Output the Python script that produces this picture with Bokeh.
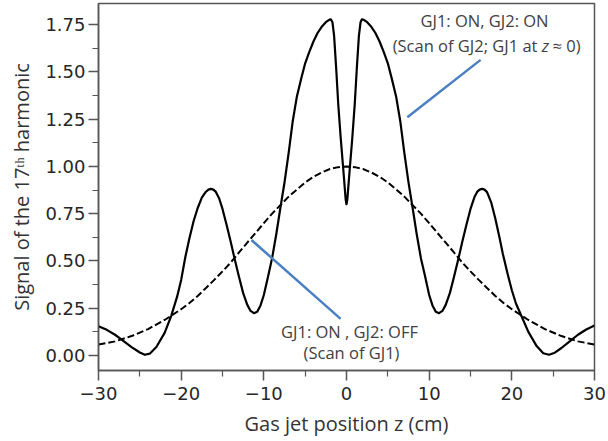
from bokeh.plotting import figure
from bokeh.models import Range1d, FixedTicker, CustomJSTickFormatter, Label, ColumnDataSource
from bokeh.embed import file_html
from bokeh.resources import INLINE

# ---- data ----
# GJ1: ON, GJ2: ON (scan of GJ2) -- solid
z_on = [-30.0, -29.0, -28.0, -27.0, -26.0, -25.0, -24.4, -23.8, -23.0, -22.0,
        -21.2, -20.5, -20.0, -19.5, -19.0, -18.5, -18.0, -17.5, -17.0, -16.7, -16.4,
        -16.1, -15.8, -15.4, -15.0, -14.5, -14.0, -13.5, -13.0, -12.5, -12.0, -11.6,
        -11.2, -10.8, -10.4, -10.0, -9.5, -9.0, -8.5, -8.0, -7.5, -7.0,
        -6.5, -6.0, -5.5, -5.0, -4.5, -4.0, -3.5, -3.0, -2.5, -2.1,
        -1.9, -1.7, -1.5, -1.25, -1.0, -0.7, -0.4, -0.2, -0.1, 0.0,
        0.1, 0.2, 0.4, 0.7, 1.0, 1.25, 1.5, 1.7, 1.85, 2.1,
        2.5, 3.0, 3.5, 4.0, 4.5, 5.0, 5.5, 6.0, 6.5, 7.0,
        7.5, 8.0, 8.5, 9.0, 9.5, 10.0, 10.4, 10.8, 11.2, 11.6,
        12.0, 12.5, 13.0, 13.5, 14.0, 14.5, 15.0, 15.5, 15.8, 16.1, 16.4,
        16.7, 17.0, 17.5, 18.0, 18.5, 18.9, 19.5, 20.0, 20.5, 21.2, 22.0,
        23.0, 23.8, 24.5, 25.2, 26.0, 27.0, 28.0, 29.0, 30.0]
signal_on = [0.155, 0.136, 0.110, 0.078, 0.045, 0.016, 0.004, 0.010, 0.045, 0.120,
             0.210, 0.310, 0.400, 0.520, 0.620, 0.710, 0.780, 0.835, 0.866, 0.877, 0.881,
             0.877, 0.865, 0.830, 0.775, 0.690, 0.600, 0.505, 0.415, 0.330, 0.268, 0.236,
             0.224, 0.232, 0.265, 0.320, 0.415, 0.515, 0.640, 0.780, 0.915, 1.070,
             1.240, 1.370, 1.460, 1.545, 1.605, 1.660, 1.705, 1.738, 1.762, 1.775,
             1.777, 1.762, 1.690, 1.520, 1.330, 1.150, 0.990, 0.880, 0.825, 0.800,
             0.825, 0.880, 0.990, 1.150, 1.330, 1.520, 1.690, 1.762, 1.777, 1.775,
             1.762, 1.738, 1.705, 1.660, 1.605, 1.545, 1.460, 1.370, 1.240, 1.070,
             0.915, 0.780, 0.640, 0.515, 0.420, 0.320, 0.265, 0.232, 0.224, 0.236,
             0.268, 0.330, 0.415, 0.505, 0.600, 0.690, 0.775, 0.840, 0.865, 0.877, 0.881,
             0.877, 0.864, 0.810, 0.725, 0.625, 0.540, 0.430, 0.345, 0.275, 0.205, 0.125,
             0.050, 0.012, 0.004, 0.015, 0.040, 0.075, 0.110, 0.138, 0.159]

# GJ1: ON, GJ2: OFF (scan of GJ1) -- dashed
z_off = [-30, -28, -26, -24, -22, -20, -19, -18, -17, -16, -15, -14, -13, -12, -11,
         -10, -9, -8, -7, -6, -5, -4, -3, -2, -1, 0, 1, 2, 3, 4, 5, 6, 7, 8, 9,
         10, 11, 12, 13, 14, 15, 16, 17, 18, 19, 20, 22, 24, 26, 28, 30]
signal_off = [0.058, 0.075, 0.103, 0.140, 0.188, 0.245, 0.278, 0.315, 0.357, 0.400,
              0.445, 0.492, 0.545, 0.597, 0.648, 0.700, 0.750, 0.795, 0.840, 0.878,
              0.915, 0.945, 0.968, 0.986, 0.996, 1.000, 0.996, 0.986, 0.968, 0.945,
              0.915, 0.878, 0.840, 0.795, 0.750, 0.700, 0.648, 0.597, 0.545, 0.492,
              0.445, 0.400, 0.357, 0.315, 0.278, 0.245, 0.188, 0.140, 0.103, 0.075,
              0.058]

x_ticks = [-30, -20, -10, 0, 10, 20, 30]
x_minor = [-25, -15, -5, 5, 15, 25]
y_ticks = [0.0, 0.25, 0.5, 0.75, 1.0, 1.25, 1.5, 1.75]
y_minor = [0.125, 0.375, 0.625, 0.875, 1.125, 1.375, 1.625]

x_title = "Gas jet position z (cm)"
y_title = "Signal of the 17\u1d57\u02b0 harmonic"

# pointer lines (annotation leaders)
ptr_x0 = [7.36, -11.5]
ptr_y0 = [1.26, 0.611]
ptr_x1 = [16.22, -0.71]
ptr_y1 = [1.563, 0.194]

# ---- layout ----
W, H = 608, 441
ML, MR, MT, MB = 98, 14, 3, 71
X0, X1 = -30.0, 30.0
Y0, Y1 = -0.079, 1.861
FW, FH = W - ML - MR, H - MT - MB


def px_to_x(px):
    return X0 + (px - ML) * (X1 - X0) / FW


def py_to_y(py):
    return Y1 - (py - MT) * (Y1 - Y0) / FH


p = figure(width=W, height=H, x_range=Range1d(X0, X1), y_range=Range1d(Y0, Y1),
           output_backend="svg", toolbar_location=None,
           min_border_left=ML, min_border_right=MR, min_border_top=MT, min_border_bottom=MB)
p.xgrid.visible = False
p.ygrid.visible = False
p.outline_line_color = "#555555"
p.outline_line_width = 1.5
p.background_fill_color = "white"
p.border_fill_color = "white"

p.xaxis.ticker = FixedTicker(ticks=x_ticks, minor_ticks=x_minor)
p.xaxis.formatter = CustomJSTickFormatter(
    code="return tick < 0 ? '\\u2212' + Math.abs(tick) : String(tick);")
p.yaxis.ticker = FixedTicker(ticks=y_ticks, minor_ticks=y_minor)
p.yaxis.formatter = CustomJSTickFormatter(code="return tick.toFixed(2);")

for ax in (p.xaxis[0], p.yaxis[0]):
    ax.axis_line_color = "#555555"
    ax.axis_line_width = 1.5
    ax.major_tick_line_color = "#555555"
    ax.minor_tick_line_color = "#555555"
    ax.major_tick_line_width = 1.5
    ax.minor_tick_line_width = 1.2
    ax.major_tick_in = 0
    ax.major_tick_out = 10
    ax.minor_tick_in = 0
    ax.minor_tick_out = 6
    ax.major_label_text_font = "DejaVu Sans"
    ax.major_label_text_font_size = "18px"
    ax.major_label_text_color = "#262626"
    ax.axis_label_text_font = "Open Sans"
    ax.axis_label_text_font_size = "20px"
    ax.axis_label_text_font_style = "normal"
    ax.axis_label_text_color = "#333333"
p.xaxis.major_label_standoff = 6
p.yaxis.major_label_standoff = 3
p.xaxis.axis_label = x_title
p.yaxis.axis_label = y_title
p.xaxis.axis_label_standoff = 7
p.yaxis.axis_label_standoff = 7

src_on = ColumnDataSource(dict(z=z_on, s=signal_on))
src_off = ColumnDataSource(dict(z=z_off, s=signal_off))
p.line("z", "s", source=src_off, line_color="black", line_width=2, line_dash="7 3")
p.line("z", "s", source=src_on, line_color="black", line_width=2.2, line_join="round")
p.segment(x0=ptr_x0, y0=ptr_y0, x1=ptr_x1, y1=ptr_y1, line_color="#4a80c2", line_width=2.5)

ann_font = "Open Sans"
ann_col = "#404040"
ann_size = "16.5px"


def lab(px, py, text, align="center", size=ann_size, style="normal"):
    p.add_layout(Label(x=px_to_x(px), y=py_to_y(py), text=text, text_align=align,
                       text_baseline="middle", text_font=ann_font, text_font_size=size,
                       text_font_style=style, text_color=ann_col))


# annotation: both jets on
lab(484, 20, "GJ1: ON, GJ2: ON")
lab(537, 45, "(Scan of GJ2; GJ1 at", align="right")
lab(545, 45, "z", style="italic")
lab(552, 45, "\u2248 0)", align="left")
# annotation: GJ2 off
lab(349, 331, "GJ1: ON , GJ2: OFF")
lab(351, 352, "(Scan of GJ1)")

open("out.html", "w").write(file_html(p, INLINE))
